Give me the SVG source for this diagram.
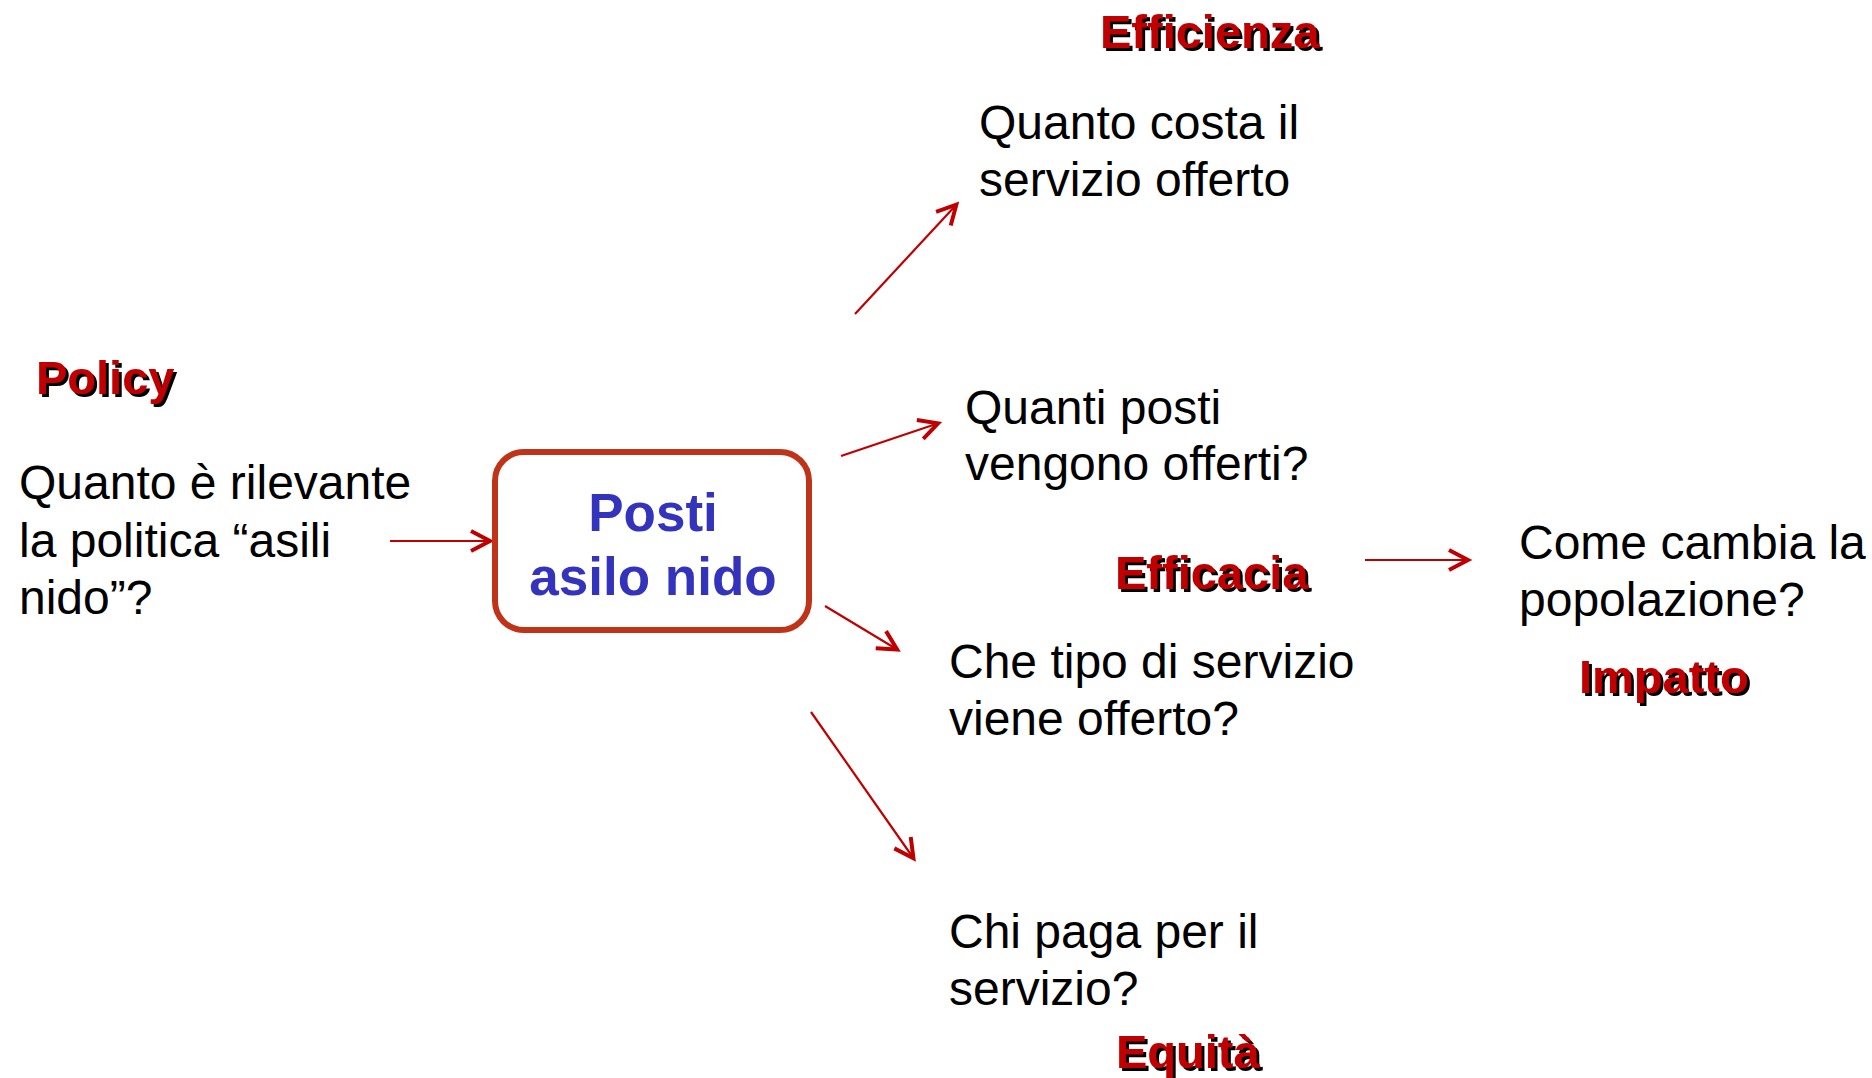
<svg xmlns="http://www.w3.org/2000/svg" width="1872" height="1078" viewBox="0 0 1872 1078">
<style>
.q{font-family:"Liberation Sans",Arial,sans-serif;font-size:48px;fill:#000}
.lab{font-family:"Liberation Sans",Arial,sans-serif;font-size:47px;font-weight:bold;fill:#C00000;filter:url(#sh)}
.ctr{font-family:"Liberation Sans",Arial,sans-serif;font-size:53px;font-weight:bold;fill:#3333BB;text-anchor:middle}
.con{stroke:#C00000;stroke-width:2.2;fill:none;marker-end:url(#ah)}
</style>
<defs>
<filter id="sh" x="-10%" y="-20%" width="130%" height="150%">
<feOffset in="SourceAlpha" dx="2.5" dy="2.5" result="o"/>
<feMerge><feMergeNode in="o"/><feMergeNode in="SourceGraphic"/></feMerge>
</filter>
<marker id="ah" markerUnits="userSpaceOnUse" markerWidth="30" markerHeight="30" viewBox="-4 -4 30 30" refX="21" refY="10" orient="auto">
<path d="M1,0 L20,10 L1,20" fill="none" stroke="#C00000" stroke-width="4"/>
</marker>
</defs>
<rect width="1872" height="1078" fill="#fff"/>

<g id="connectors">
<line class="con" x1="390" y1="541" x2="491" y2="541"/>
<line class="con" x1="855" y1="314" x2="957" y2="204"/>
<line class="con" x1="841" y1="456" x2="939" y2="423"/>
<line class="con" x1="825" y1="606" x2="898" y2="650"/>
<line class="con" x1="811" y1="712" x2="914" y2="859"/>
<line class="con" x1="1365" y1="560" x2="1469" y2="560"/>
</g>

<g id="policy">
<text class="lab" x="36" y="394">Policy</text>
<text class="q" x="19" y="499">Quanto è rilevante</text>
<text class="q" x="19" y="557">la politica “asili</text>
<text class="q" x="19" y="614">nido”?</text>
</g>

<g id="posti">
<rect x="495" y="452" width="314" height="178" rx="29" ry="29" fill="#fff" stroke="#BF3319" stroke-width="6"/>
<text class="ctr" x="653" y="531">Posti</text>
<text class="ctr" x="653" y="595">asilo nido</text>
</g>

<g id="efficienza">
<text class="lab" x="1100" y="48">Efficienza</text>
<text class="q" x="979" y="139">Quanto costa il</text>
<text class="q" x="979" y="196">servizio offerto</text>
</g>

<g id="quanti-posti">
<text class="q" x="965" y="424">Quanti posti</text>
<text class="q" x="965" y="480">vengono offerti?</text>
</g>

<g id="efficacia">
<text class="lab" x="1115" y="589">Efficacia</text>
</g>

<g id="impatto">
<text class="q" x="1519" y="559">Come cambia la</text>
<text class="q" x="1519" y="616">popolazione?</text>
<text class="lab" x="1579" y="693">Impatto</text>
</g>

<g id="che-tipo">
<text class="q" x="949" y="678">Che tipo di servizio</text>
<text class="q" x="949" y="735">viene offerto?</text>
</g>

<g id="equita">
<text class="q" x="949" y="948">Chi paga per il</text>
<text class="q" x="949" y="1005">servizio?</text>
<text class="lab" x="1116" y="1068">Equità</text>
</g>
</svg>
